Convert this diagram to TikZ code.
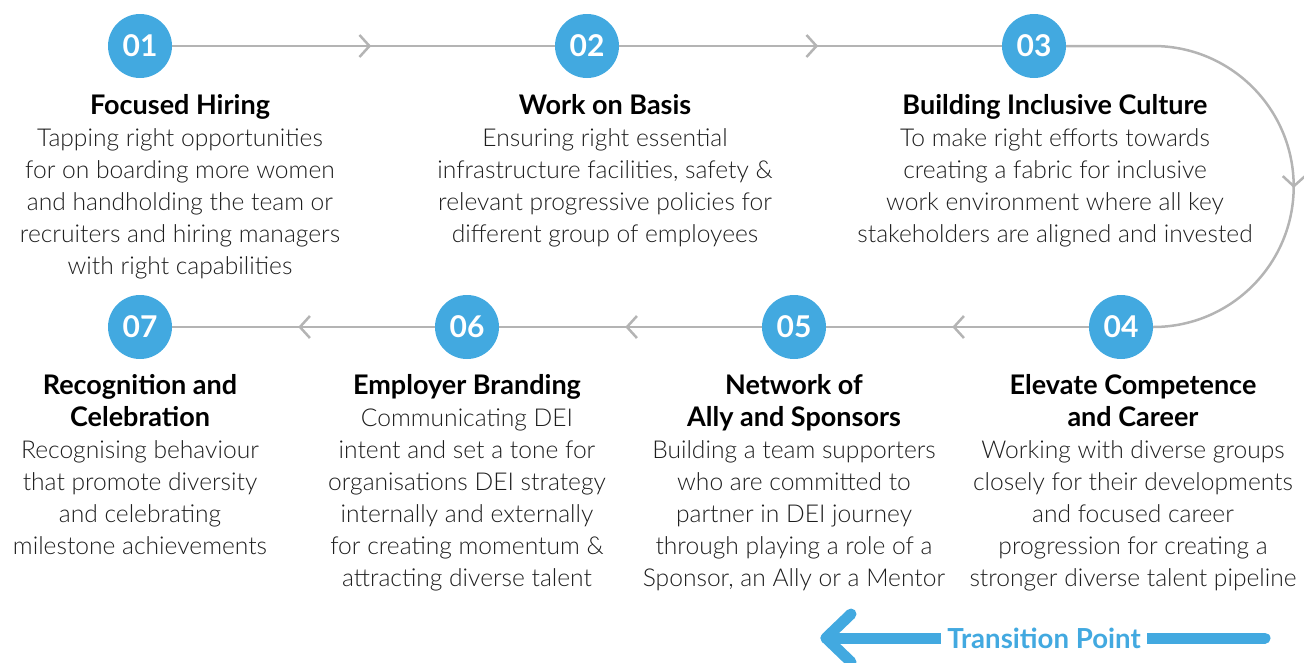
\documentclass[tikz,border=0pt]{standalone}
\usepackage{fontspec}
\setmainfont{Lato}[UprightFont=* Light, BoldFont=* Bold]
\usetikzlibrary{positioning, arrows.meta, decorations.markings}
\definecolor{dotblue}{HTML}{42A9E0}
\definecolor{linegray}{HTML}{B4B4B4}
\definecolor{bodygray}{HTML}{1E1E1E}
\newcommand{\hd}[1]{{\fontsize{27}{32}\selectfont\bfseries\color{black}#1}}

\begin{document}
\begin{tikzpicture}[x=1pt, y=1pt,
    num/.style={circle, fill=dotblue, minimum size=64pt, inner sep=0pt, text=white, font=\fontsize{30}{30}\selectfont\bfseries},
    desc/.style={align=center, anchor=base, inner sep=0pt, text=bodygray, font=\fontsize{24.6}{32}\selectfont},
    flow/.style={draw=linegray, line width=2.5pt, postaction={decorate}, decoration={markings, mark=at position #1 with {\arrow{Straight Barb[length=10pt, width=22pt]}}}},
    flow/.default=0.52,
    tline/.style={draw=dotblue, line width=11pt, line cap=round, line join=round}]
    \useasboundingbox (0,0) rectangle (1304,-662);
    	\node[num] (1) at (140,-46)  {01};
    	\node[num] (2) at (587,-46)  {02};
    	\node[num] (3) at (1034,-46) {03};
    	\node[num] (4) at (1121,-327) {04};
    	\node[num] (5) at (794,-327) {05};
    	\node[num] (6) at (467,-327) {06};
    	\node[num] (7) at (140,-327) {07};
    	\draw 	(1) edge [flow] (2)
    	 		(2) edge [flow] (3)
    	 		(4) edge [flow] (5)
    	 		(5) edge [flow] (6)
    	 		(6) edge [flow] (7);
    	\draw[flow=0.585] (3.east) -- (3.east -| 4.east) arc[start angle=90, end angle=-90, radius=140.5pt] -- (4.east);
    	% texts (placed at the baseline of their last line)
    	\node[desc] (d1) at (180,-274) {\hd{Focused Hiring}\\ Tapping right opportunities\\ for on boarding more women\\ and handholding the team or\\ recruiters and hiring managers\\ with right capabilities};
    	\node[desc] (d2) at (605,-242) {\hd{Work on Basis}\\ Ensuring right essential\\ infrastructure facilities, safety \&\\ relevant progressive policies for\\ different group of employees};
    	\node[desc] (d3) at (1055,-242) {\hd{Building Inclusive Culture}\\ To make right efforts towards\\ creating a fabric for inclusive\\ work environment where all key\\ stakeholders are aligned and invested};
    	\node[desc] (d4) at (1133,-586) {\hd{Elevate Competence}\\ \hd{and Career}\\ Working with diverse groups\\ closely for their developments\\ and focused career\\ progression for creating a\\ stronger diverse talent pipeline};
    	\node[desc] (d5) at (794,-586) {\hd{Network of}\\ \hd{Ally and Sponsors}\\ Building a team supporters\\ who are committed to\\ partner in DEI journey\\ through playing a role of a\\ Sponsor, an Ally or a Mentor};
    	\node[desc] (d6) at (467,-586) {\hd{Employer Branding}\\ Communicating DEI\\ intent and set a tone for\\ organisations DEI strategy\\ internally and externally\\ for creating momentum \&\\ attracting diverse talent};
    	\node[desc] (d7) at (140,-554) {\hd{Recognition and}\\ \hd{Celebration}\\ Recognising behaviour\\ that promote diversity\\ and celebrating\\ milestone achievements};
    	% transition point
    	\coordinate (tpend) at (1265,-638);
    	\coordinate (tptip) at (826,-638);
    	\draw[tline] (tpend) -- (tptip);
    	\draw[tline] (tptip) ++(25,24) -- (tptip) -- ++(25,-24);
    	\node[fill=white, text=dotblue, inner xsep=6pt, font=\fontsize{27.6}{28}\selectfont\bfseries] (tp) at (1044,-638) {Transition Point};
    \end{tikzpicture}
\end{document}
